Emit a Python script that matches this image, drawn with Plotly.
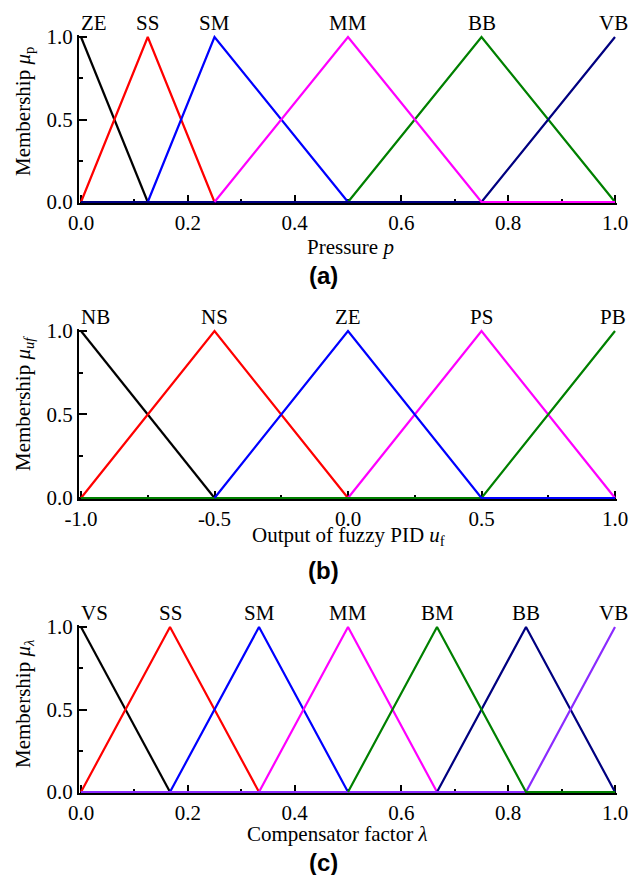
import plotly.graph_objects as go

W, H = 630, 875

# ---------------- data ----------------
# Panel (a): pressure p
a_names = ["ZE", "SS", "SM", "BB", "VB", "MM"]
a_x = {
    "ZE": [0.0, 0.125],
    "SS": [0.0, 0.125, 0.25],
    "SM": [0.125, 0.25, 0.5],
    "MM": [0.25, 0.5, 0.75, 1.0],
    "BB": [0.5, 0.75, 1.0],
    "VB": [0.0, 0.75, 1.0],
}
a_y = {
    "ZE": [1, 0],
    "SS": [0, 1, 0],
    "SM": [0, 1, 0],
    "MM": [0, 1, 0, 0],
    "BB": [0, 1, 0],
    "VB": [0, 0, 1],
}
a_labels = ["ZE", "SS", "SM", "MM", "BB", "VB"]
a_label_x = [0.0, 0.125, 0.25, 0.5, 0.75, 1.0]

# Panel (b): output of fuzzy PID u_f
b_names = ["NB", "NS", "PS", "PB", "ZE"]
b_x = {
    "NB": [-1.0, -0.5],
    "NS": [-1.0, -0.5, 0.0],
    "ZE": [-0.5, 0.0, 0.5, 1.0],
    "PS": [0.0, 0.5, 1.0],
    "PB": [-1.0, 0.5, 1.0],
}
b_y = {
    "NB": [1, 0],
    "NS": [0, 1, 0],
    "ZE": [0, 1, 0, 0],
    "PS": [0, 1, 0],
    "PB": [0, 0, 1],
}
b_labels = ["NB", "NS", "ZE", "PS", "PB"]
b_label_x = [-1.0, -0.5, 0.0, 0.5, 1.0]

# Panel (c): compensator factor lambda
c_names = ["VS", "SS", "SM", "MM", "BB", "VB", "BM"]
c_x = {
    "VS": [0.0, 1/6],
    "SS": [0.0, 1/6, 2/6],
    "SM": [1/6, 2/6, 3/6],
    "MM": [2/6, 3/6, 4/6],
    "BM": [3/6, 4/6, 5/6, 1.0],
    "BB": [4/6, 5/6, 1.0],
    "VB": [0.0, 5/6, 1.0],
}
c_y = {
    "VS": [1, 0],
    "SS": [0, 1, 0],
    "SM": [0, 1, 0],
    "MM": [0, 1, 0],
    "BM": [0, 1, 0, 0],
    "BB": [0, 1, 0],
    "VB": [0, 0, 1],
}
c_labels = ["VS", "SS", "SM", "MM", "BM", "BB", "VB"]
c_label_x = [0.0, 1/6, 2/6, 3/6, 4/6, 5/6, 1.0]

a_colors = {"ZE": "#000000", "SS": "#ff0000", "SM": "#0000ff", "MM": "#ff00ff",
            "BB": "#008000", "VB": "#000080"}
b_colors = {"NB": "#000000", "NS": "#ff0000", "ZE": "#0000ff", "PS": "#ff00ff",
            "PB": "#008000"}
c_colors = {"VS": "#000000", "SS": "#ff0000", "SM": "#0000ff", "MM": "#ff00ff",
            "BM": "#008000", "BB": "#000080", "VB": "#8b2bff"}

a_xticks = [0.0, 0.2, 0.4, 0.6, 0.8, 1.0]
a_xticktext = ["0.0", "0.2", "0.4", "0.6", "0.8", "1.0"]
b_xticks = [-1.0, -0.5, 0.0, 0.5, 1.0]
b_xticktext = ["-1.0", "-0.5", "0.0", "0.5", "1.0"]
yticks = [0.0, 0.5, 1.0]
yticktext = ["0.0", "0.5", "1.0"]

# ---------------- layout helpers ----------------
X0_PX, X1_PX = 81, 615
panels = [
    # (y of value 1 px, y of value 0 px)
    (37, 202),
    (331, 498),
    (627, 792),
]
XPAD = 0.004
YPAD_LO, YPAD_HI = 0.006, 0.012


def xdomain(lo, hi):
    span = hi - lo
    ppu = (X1_PX - X0_PX) / span
    pad = XPAD * span
    left = X0_PX - pad * ppu
    right = X1_PX + pad * ppu
    return [left / W, right / W], [lo - pad, hi + pad]


def ydomain(top_px, bot_px):
    ppu = bot_px - top_px
    b = bot_px + YPAD_LO * ppu
    t = top_px - YPAD_HI * ppu
    return [1 - b / H, 1 - t / H], [-YPAD_LO, 1 + YPAD_HI]


def py(px):
    return 1 - px / H


def pxx(px):
    return px / W


SERIF = "Liberation Serif, Times New Roman, serif"
fig = go.Figure()

panel_data = [
    (a_names, a_x, a_y, a_colors, "x", "y"),
    (b_names, b_x, b_y, b_colors, "x2", "y2"),
    (c_names, c_x, c_y, c_colors, "x3", "y3"),
]
for names, xs, ys, cols, xa, ya in panel_data:
    for n in names:
        fig.add_trace(go.Scatter(x=xs[n], y=ys[n], mode="lines", name=n,
                                 line=dict(color=cols[n], width=2.2),
                                 xaxis=xa, yaxis=ya, showlegend=False,
                                 hoverinfo="skip"))

axis_common = dict(showline=True, linecolor="black", linewidth=2, ticks="inside",
                   tickcolor="black", tickwidth=1.5, ticklen=8, showgrid=False,
                   zeroline=False, mirror=False, layer="below traces",
                   automargin=False,
                   tickfont=dict(family=SERIF, size=21, color="black"))

x_specs = [((0.0, 1.0), a_xticks, a_xticktext, 0.1),
           ((-1.0, 1.0), b_xticks, b_xticktext, 0.25),
           ((0.0, 1.0), a_xticks, a_xticktext, 0.1)]
layout = {}
for i, ((lo, hi), tv, tt, mdt) in enumerate(x_specs):
    dom, rng = xdomain(lo, hi)
    ydom, yrng = ydomain(*panels[i])
    sfx = "" if i == 0 else str(i + 1)
    layout["xaxis" + sfx] = dict(axis_common, domain=dom, range=rng, tickvals=tv,
                                 ticktext=tt, anchor="y" + sfx,
                                 minor=dict(ticks="inside", ticklen=4, dtick=mdt,
                                            tick0=lo, tickcolor="black",
                                            tickwidth=1.5, showgrid=False))
    layout["yaxis" + sfx] = dict(axis_common, domain=ydom, range=yrng, tickvals=yticks,
                                 ticktext=yticktext, anchor="x" + sfx,
                                 minor=dict(ticks="inside", ticklen=4, dtick=0.25,
                                            tick0=0, tickcolor="black",
                                            tickwidth=1.5, showgrid=False))

fig.update_layout(**layout)

ann = []
serif_font = dict(family=SERIF, size=21, color="black")
title_font = dict(family=SERIF, size=21, color="black")

# series labels
label_sets = [(a_labels, a_label_x, "x", 23), (b_labels, b_label_x, "x2", 317),
              (c_labels, c_label_x, "x3", 613)]
for labels, lx, xr, ypx in label_sets:
    for k, (lab, x) in enumerate(zip(labels, lx)):
        if k == 0:
            xanchor, xshift = "left", -2
        elif k == len(labels) - 1:
            xanchor, xshift = "center", -2
        else:
            xanchor, xshift = "center", 0
        ann.append(dict(text=lab, x=x, xref=xr, y=py(ypx), yref="paper",
                        xanchor=xanchor, yanchor="middle", xshift=xshift,
                        showarrow=False, font=serif_font))

# x titles
xtitles = [("Pressure <i>p</i>", 350, 247),
           ("Output of fuzzy PID <i>u</i><sub>f</sub>", 348, 536),
           ("Compensator factor <i>λ</i>", 337, 834)]
for t, xpx, ypx in xtitles:
    ann.append(dict(text=t, x=pxx(xpx), y=py(ypx), xref="paper", yref="paper",
                    xanchor="center", yanchor="middle", showarrow=False,
                    font=title_font))

# y titles
ytitles = [("Membership <i>μ</i><sub>p</sub>", 112),
           ("Membership <i>μ</i><sub><i>uf</i></sub>", 404),
           ("Membership <i>μ</i><sub><i>λ</i></sub>", 704)]
for t, ypx in ytitles:
    ann.append(dict(text=t, x=pxx(24), y=py(ypx), xref="paper", yref="paper",
                    xanchor="center", yanchor="middle", textangle=-90,
                    showarrow=False, font=title_font))

# panel letters
for t, ypx in [("(a)", 275), ("(b)", 570), ("(c)", 862)]:
    ann.append(dict(text="<b>" + t + "</b>", x=pxx(323), y=py(ypx), xref="paper",
                    yref="paper", xanchor="center", yanchor="middle",
                    showarrow=False,
                    font=dict(family="Liberation Sans, Arial, sans-serif", size=24,
                              color="black")))

fig.update_layout(annotations=ann, width=W, height=H,
                  margin=dict(l=0, r=0, t=0, b=0, pad=0, autoexpand=False),
                  paper_bgcolor="white", plot_bgcolor="white")

fig.write_html("out.html", config={"displayModeBar": False},
               post_script="document.body.style.margin='0';"
                           "document.body.style.overflow='hidden';")
